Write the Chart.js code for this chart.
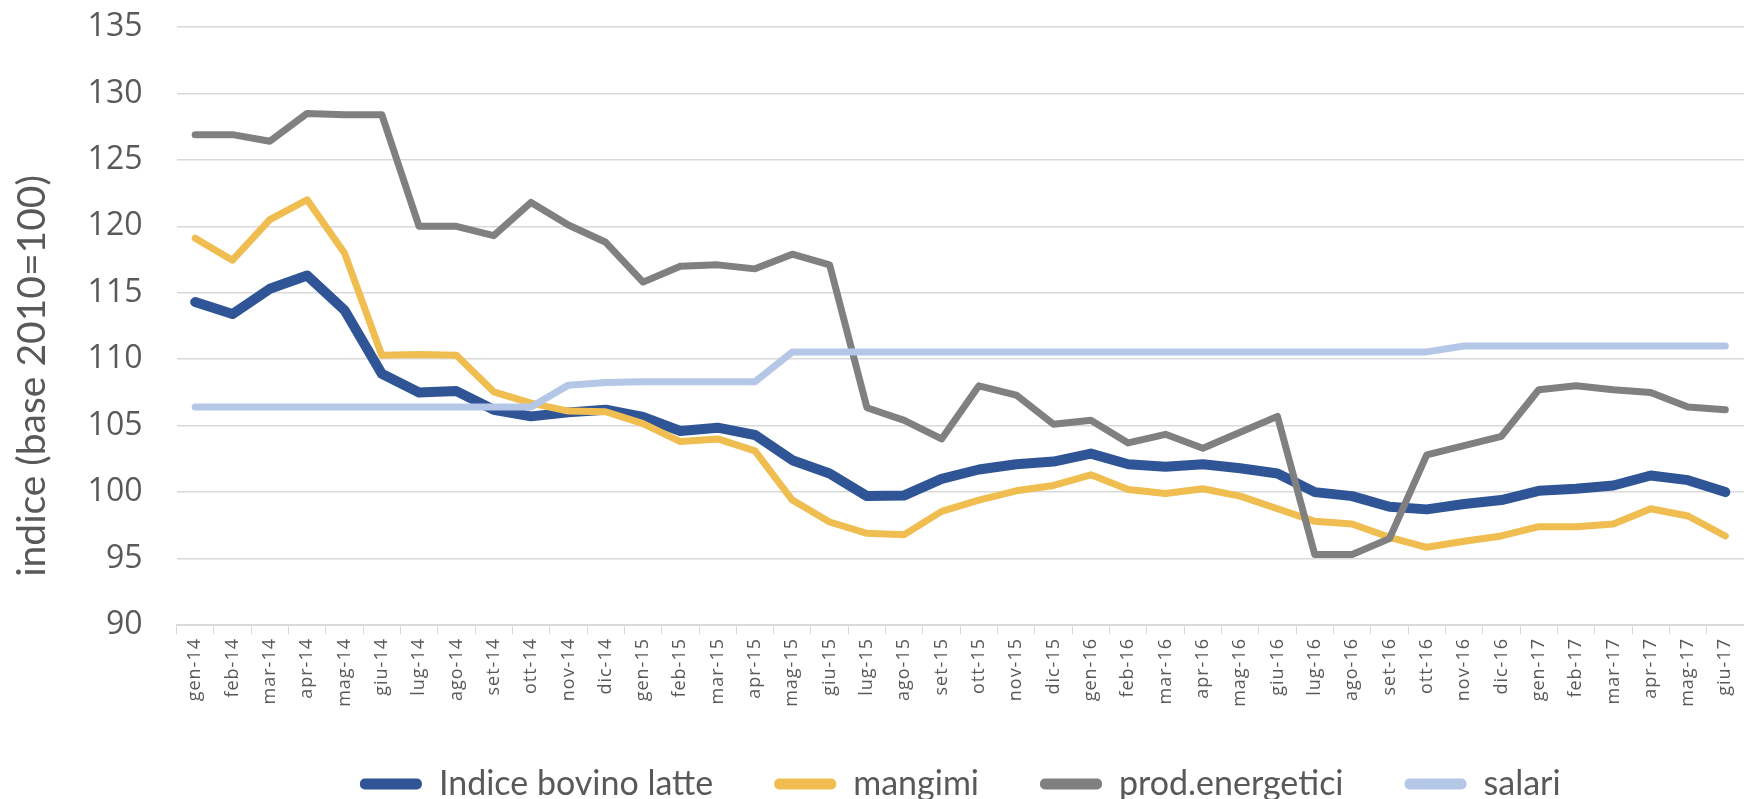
<!DOCTYPE html>
<html>
<head>
<meta charset="utf-8">
<script src="https://cdn.jsdelivr.net/npm/chart.js@4"></script>
<style>
  html, body { margin: 0; padding: 0; background: #fff; }
  #box { width: 1744px; height: 799px; }
</style>
</head>
<body>
<div id="box"><canvas id="grafico"></canvas></div>
<script>
// mesi gen-14 ... giu-17
const mesi = ['gen-14','feb-14','mar-14','apr-14','mag-14','giu-14','lug-14','ago-14','set-14','ott-14','nov-14','dic-14',
  'gen-15','feb-15','mar-15','apr-15','mag-15','giu-15','lug-15','ago-15','set-15','ott-15','nov-15','dic-15',
  'gen-16','feb-16','mar-16','apr-16','mag-16','giu-16','lug-16','ago-16','set-16','ott-16','nov-16','dic-16',
  'gen-17','feb-17','mar-17','apr-17','mag-17','giu-17'];

const bovinoLatte = [114.3, 113.4, 115.3, 116.3, 113.7, 108.9, 107.5, 107.6, 106.2, 105.7, 106.0, 106.2,
  105.65, 104.6, 104.85, 104.3, 102.4, 101.4, 99.7, 99.75, 101.0, 101.7, 102.1, 102.3,
  102.9, 102.1, 101.9, 102.1, 101.8, 101.4, 100.0, 99.7, 98.9, 98.7, 99.1, 99.4,
  100.1, 100.25, 100.5, 101.25, 100.9, 100.0];

const mangimi = [119.1, 117.45, 120.5, 122.0, 118.0, 110.3, 110.35, 110.3, 107.55, 106.7, 106.1, 106.05,
  105.15, 103.8, 104.0, 103.1, 99.4, 97.75, 96.9, 96.8, 98.55, 99.4, 100.1, 100.5,
  101.3, 100.2, 99.9, 100.25, 99.7, 98.75, 97.8, 97.6, 96.6, 95.85, 96.3, 96.7,
  97.4, 97.4, 97.6, 98.75, 98.2, 96.7];

const prodEnergetici = [126.9, 126.9, 126.4, 128.5, 128.4, 128.4, 120.0, 120.0, 119.3, 121.8, 120.1, 118.8,
  115.8, 117.0, 117.1, 116.8, 117.9, 117.1, 106.35, 105.4, 104.0, 108.0, 107.3, 105.1,
  105.4, 103.7, 104.35, 103.3, 104.5, 105.7, 95.3, 95.3, 96.5, 102.8, 103.5, 104.2,
  107.7, 108.0, 107.7, 107.5, 106.4, 106.2];

const salari = [106.4, 106.4, 106.4, 106.4, 106.4, 106.4, 106.4, 106.4, 106.4, 106.4, 108.05, 108.25,
  108.3, 108.3, 108.3, 108.3, 110.55, 110.55, 110.55, 110.55, 110.55, 110.55, 110.55, 110.55,
  110.55, 110.55, 110.55, 110.55, 110.55, 110.55, 110.55, 110.55, 110.55, 110.55, 111.0, 111.0,
  111.0, 111.0, 111.0, 111.0, 111.0, 111.0];

const titoloY = 'indice (base 2010=100)';

const grigioTesto = '#595959';
const griglia = '#D9D9D9';

function serie(nome, valori, colore, spessore, ordine) {
  return {
    label: nome,
    data: valori,
    borderColor: colore,
    backgroundColor: colore,
    borderWidth: spessore,
    pointRadius: 0,
    tension: 0,
    borderJoinStyle: 'round',
    borderCapStyle: 'round',
    order: ordine
  };
}

// sposta la legenda, allarga l'area delle etichette x e scrive il titolo dell'asse y
const ritocchi = {
  id: 'ritocchi',
  afterLayout(chart) {
    chart.legend.left = 173;
    chart.legend.top = 706;
    const sx = chart.scales.x;
    sx.bottom = sx.top + 110;
    // etichette dei mesi un po' spaziate come in Excel
    if (!sx._spaziato) {
      const orig = sx.drawLabels;
      sx.drawLabels = function (area) {
        const c = this.ctx;
        c.save();
        c.letterSpacing = '1px';
        orig.call(this, area);
        c.restore();
      };
      sx._spaziato = true;
    }
  },
  afterDraw(chart) {
    const c = chart.ctx;
    c.save();
    c.translate(32, 376);
    c.rotate(-Math.PI / 2);
    c.fillStyle = grigioTesto;
    c.font = '39px Lato, sans-serif';
    c.textAlign = 'center';
    c.textBaseline = 'middle';
    c.fillText(titoloY, 0, 0);
    c.restore();
  }
};

const ctx = document.getElementById('grafico').getContext('2d');
new Chart(ctx, {
  type: 'line',
  data: {
    labels: mesi,
    datasets: [
      serie('Indice bovino latte', bovinoLatte, '#2F5597', 10, 4),
      serie('mangimi', mangimi, '#F0BD50', 7, 3),
      serie('prod.energetici', prodEnergetici, '#808080', 7, 2),
      serie('salari', salari, '#B4C7E7', 7, 1)
    ]
  },
  plugins: [ritocchi],
  options: {
    responsive: true,
    maintainAspectRatio: false,
    animation: false,
    layout: { padding: { top: 27, right: -3.5, left: 0, bottom: 0 } },
    plugins: {
      tooltip: { enabled: false },
      legend: {
        position: 'bottom',
        labels: {
          boxWidth: 62,
          boxHeight: 11,
          useBorderRadius: true,
          borderRadius: 5,
          padding: 61,
          color: grigioTesto,
          font: { family: 'Lato, sans-serif', size: 34 },
          sort: (a, b) => a.datasetIndex - b.datasetIndex,
          generateLabels: function (chart) {
            const items = Chart.defaults.plugins.legend.labels.generateLabels(chart);
            items.forEach(it => { it.lineWidth = 0; });
            return items;
          }
        }
      }
    },
    scales: {
      x: {
        offset: true,
        grid: { drawOnChartArea: false, color: griglia, tickLength: 9, offset: true },
        border: { color: griglia, width: 2 },
        ticks: {
          autoSkip: false,
          minRotation: 90,
          maxRotation: 90,
          color: grigioTesto,
          padding: 4,
          font: { family: '"Open Sans", sans-serif', size: 18 }
        },
        afterFit: function (scale) {
          scale.height = 69;
          scale.paddingLeft = 0;
          scale.paddingRight = 0;
        }
      },
      y: {
        min: 90,
        max: 135,
        ticks: {
          stepSize: 5,
          padding: 0,
          color: grigioTesto,
          font: { family: '"Open Sans", sans-serif', size: 32 }
        },
        grid: { color: griglia, lineWidth: 1.5, drawTicks: true, tickLength: 34, tickColor: 'rgba(0,0,0,0)' },
        border: { display: false },
        afterFit: function (scale) {
          scale.width = 176.5;
          scale.paddingTop = 0;
          scale.paddingBottom = 0;
        }
      }
    }
  }
});
</script>
</body>
</html>
